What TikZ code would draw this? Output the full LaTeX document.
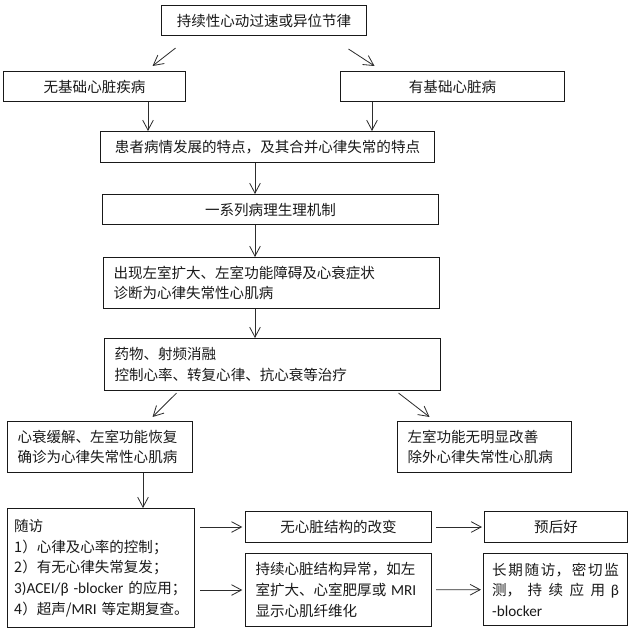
\documentclass[tikz,border=0pt]{standalone}
\usepackage{fontspec}
\usepackage{tikz}
\usetikzlibrary{arrows.meta,positioning}
\newfontfamily\cjkfont{Noto Sans CJK SC}
\newfontfamily\latfont[Scale=1.05]{Carlito}
\newcommand{\en}[1]{{\latfont #1}}
\definecolor{FlowInk}{RGB}{25,25,25}
\definecolor{FlowLine}{RGB}{45,45,45}

\begin{document}
\begin{tikzpicture}[
    x=0.03cm, y=-0.03cm,
    box/.style={draw=FlowInk, line width=0.9pt, anchor=north west, inner xsep=0.3cm, inner ysep=0pt, align=center, text=FlowInk, font=\cjkfont\fontsize{12.4pt}{17.6pt}\selectfont},
    lbox/.style={box, align=left, text width=#1},
    arrow/.style={-{Straight Barb[length=3mm, width=3.2mm]}, line width=0.7pt, draw=FlowLine}
  ]
  \useasboundingbox (0,0) rectangle (640,629);
  % upper part
  \node[box, minimum width=6.15cm, minimum height=0.9cm] (top) at (161,5) {持续性心动过速或异位节律};
  \node[box, minimum width=5.46cm, minimum height=0.9cm] (left1) at (3,71) {无基础心脏疾病};
  \node[box, minimum width=6.72cm, minimum height=0.9cm] (right1) at (340,71) {有基础心脏病};
  \node[box, minimum width=10.02cm, minimum height=0.93cm] (feat) at (100,131) {患者病情发展的特点，及其合并心律失常的特点};
  \node[box, minimum width=10.08cm, minimum height=0.9cm] (mech) at (102,194) {一系列病理生理机制};
  \node[lbox=9.48cm, minimum height=1.53cm] (diag) at (103,257) {出现左室扩大、左室功能障碍及心衰症状\\诊断为心律失常性心肌病};
  \node[lbox=9.48cm, minimum height=1.56cm] (treat) at (104,338) {药物、射频消融\\控制心率、转复心律、抗心衰等治疗};
  % outcome
  \node[lbox=4.95cm, minimum height=1.53cm] (relief) at (7,421) {心衰缓解、左室功能恢复\\确诊为心律失常性心肌病};
  \node[lbox=4.62cm, minimum height=1.53cm] (noimp) at (397,421) {左室功能无明显改善\\除外心律失常性心肌病};
  % follow-up
  \node[lbox=5.21cm, inner xsep=0.2cm, minimum height=3.57cm] (follow) at (7,508) {随访\\1）心律及心率的控制；\\2）有无心律失常复发；\\\mbox{\en{3)ACEI/β~-blocker}~的应用；}\\\mbox{4）超声/\en{MRI}~等定期复查。}};
  \node[box, minimum width=5.58cm, minimum height=0.93cm] (nostruct) at (245,511) {无心脏结构的改变};
  \node[box, minimum width=4.29cm, minimum height=0.93cm] (good) at (484,511) {预后好};
  \node[lbox=4.98cm, minimum height=2.19cm] (persist) at (245,553) {持续心脏结构异常，如左\\室扩大、心室肥厚或~\en{MRI}\\显示心肌纤维化};
  \node[lbox=3.8cm, inner xsep=0.26cm, minimum height=2.16cm, align=justify] (long) at (483,553) {\XeTeXlinebreaklocale "zh"\XeTeXlinebreakskip=0pt plus 4pt 长期随访，密切监\linebreak 测，持续应用 \en{β}\linebreak \en{-blocker}};

  \coordinate (lcol) at (148,0);
  \coordinate (rcol) at (372,0);
  \coordinate (mcol) at (255,0);
  \coordinate (fcol) at (143,0);

  \draw[arrow] ([shift={(-88.5,12)}]top.south) -- ([shift={(58,-5)}]left1.north);
  \draw[arrow] ([shift={(84.5,13)}]top.south) -- ([shift={(-78,-5)}]right1.north);
  \draw[arrow] (left1.south -| lcol) -- (feat.north -| lcol);
  \draw[arrow] (right1.south -| rcol) -- (feat.north -| rcol);
  \foreach \a/\b in {feat/mech,mech/diag,diag/treat} {\draw[arrow] (\a.south -| mcol) -- (\b.north -| mcol);}
  \draw[arrow] ([shift={(-96,2)}]treat.south) -- ([shift={(52.5,-4)}]relief.north);
  \draw[arrow] ([shift={(126,2)}]treat.south) -- ([shift={(-55,-4)}]noimp.north);
  \draw[arrow] (relief.south -| fcol) -- (follow.north -| fcol);
  \draw[arrow, shorten <=0.15cm, shorten >=0.08cm] (follow.east |- nostruct.west) -- (nostruct.west);
  \draw[arrow, shorten <=0.15cm, shorten >=0.08cm] (follow.east |- persist.west) -- (persist.west);
  \draw[arrow, shorten <=0.12cm, shorten >=0.06cm] (nostruct) -- (good);
  \draw[arrow, shorten <=0.12cm, shorten >=0.06cm] (persist) -- (long);
\end{tikzpicture}
\end{document}
